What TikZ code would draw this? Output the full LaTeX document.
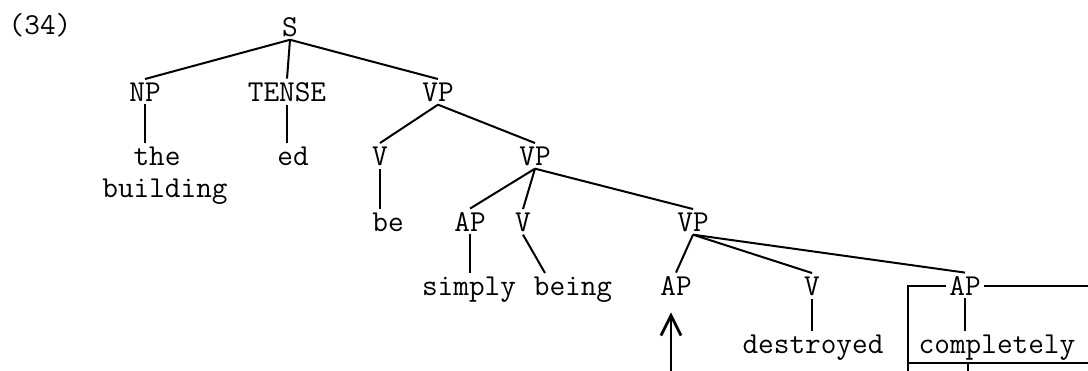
\documentclass[tikz,border=0pt]{standalone}
\usepackage{fontspec}
\setmonofont{Latin Modern Mono}
\usetikzlibrary{arrows.meta}
\tikzset{
  lbl/.style={font=\ttfamily\fontsize{15.2}{18}\selectfont, inner sep=1.5pt, anchor=base},
  branch/.style={line width=1pt}
}
\begin{document}
\begin{tikzpicture}[x=0.5pt,y=-0.5pt]
\useasboundingbox (0,0) rectangle (1088,370);

\node[lbl] (num) at (40,34) {(34)};
\node[lbl] (s) at (290,36) {S};
\node[lbl] (np) at (145,101) {NP};
\node[lbl] (tense) at (287,101) {TENSE};
\node[lbl] (vp1) at (438,101) {VP};
\node[lbl] (the) at (157,165) {the};
\node[lbl] (bldg) at (165,197) {building};
\node[lbl] (ed) at (293,165) {ed};
\node[lbl] (v1) at (380,165) {V};
\node[lbl] (vp2) at (535,165) {VP};
\node[lbl] (be) at (388,231) {be};
\node[lbl] (ap1) at (470,231) {AP};
\node[lbl] (v2) at (523,231) {V};
\node[lbl] (vp3) at (693,231) {VP};
\node[lbl] (simply) at (469,295) {simply};
\node[lbl] (being) at (573,295) {being};
\node[lbl] (ap2) at (676,295) {AP};
\node[lbl] (v3) at (812,295) {V};
\node[lbl] (ap3) at (965,295) {AP};
\node[lbl] (destroyed) at (813,353) {destroyed};
\node[lbl] (completely) at (997,353) {completely};

\coordinate (boxbl) at (908,380);
\coordinate (boxr) at (1095,0);
\coordinate (tail) at (968,380);
\coordinate (foot) at (671,380);

\draw[branch] (s.south) -- (np.north);
\draw[branch] (s.south) -- (tense.north);
\draw[branch] (s.south) -- (vp1.north);
\draw[branch] (np.south) -- (np.south |- the.north);
\draw[branch] (tense.south) -- (tense.south |- ed.north);
\draw[branch] (vp1.south) -- (v1.north);
\draw[branch] (vp1.south) -- (vp2.north);
\draw[branch] (v1.south) -- (v1.south |- be.north);
\draw[branch] (vp2.south) -- (ap1.north);
\draw[branch] (vp2.south) -- (v2.north);
\draw[branch] (vp2.south) -- (vp3.north);
\draw[branch] (ap1.south) -- (ap1.south |- simply.north);
\draw[branch] (v2.south) -- (being.150);
\draw[branch] (vp3.south) -- (ap2.north);
\draw[branch] (vp3.south) -- (v3.north);
\draw[branch] (vp3.south) -- (ap3.north);
\draw[branch] (v3.south) -- (v3.south |- destroyed.north);
\draw[branch] (ap3.south) -- (ap3.south |- completely.north);

\draw[branch] (ap3.west) -| (boxbl);
\draw[branch] (ap3.east) -- (ap3.east -| boxr);
\draw[branch] (completely.south -| boxbl) -- (completely.south -| boxr);
\draw[branch] (tail |- completely.south) -- (tail);

\draw[line width=1.4pt, -{Straight Barb[length=10pt,width=10pt]}, shorten >=7pt] (foot) -- (foot |- ap2.south);
\end{tikzpicture}
\end{document}
